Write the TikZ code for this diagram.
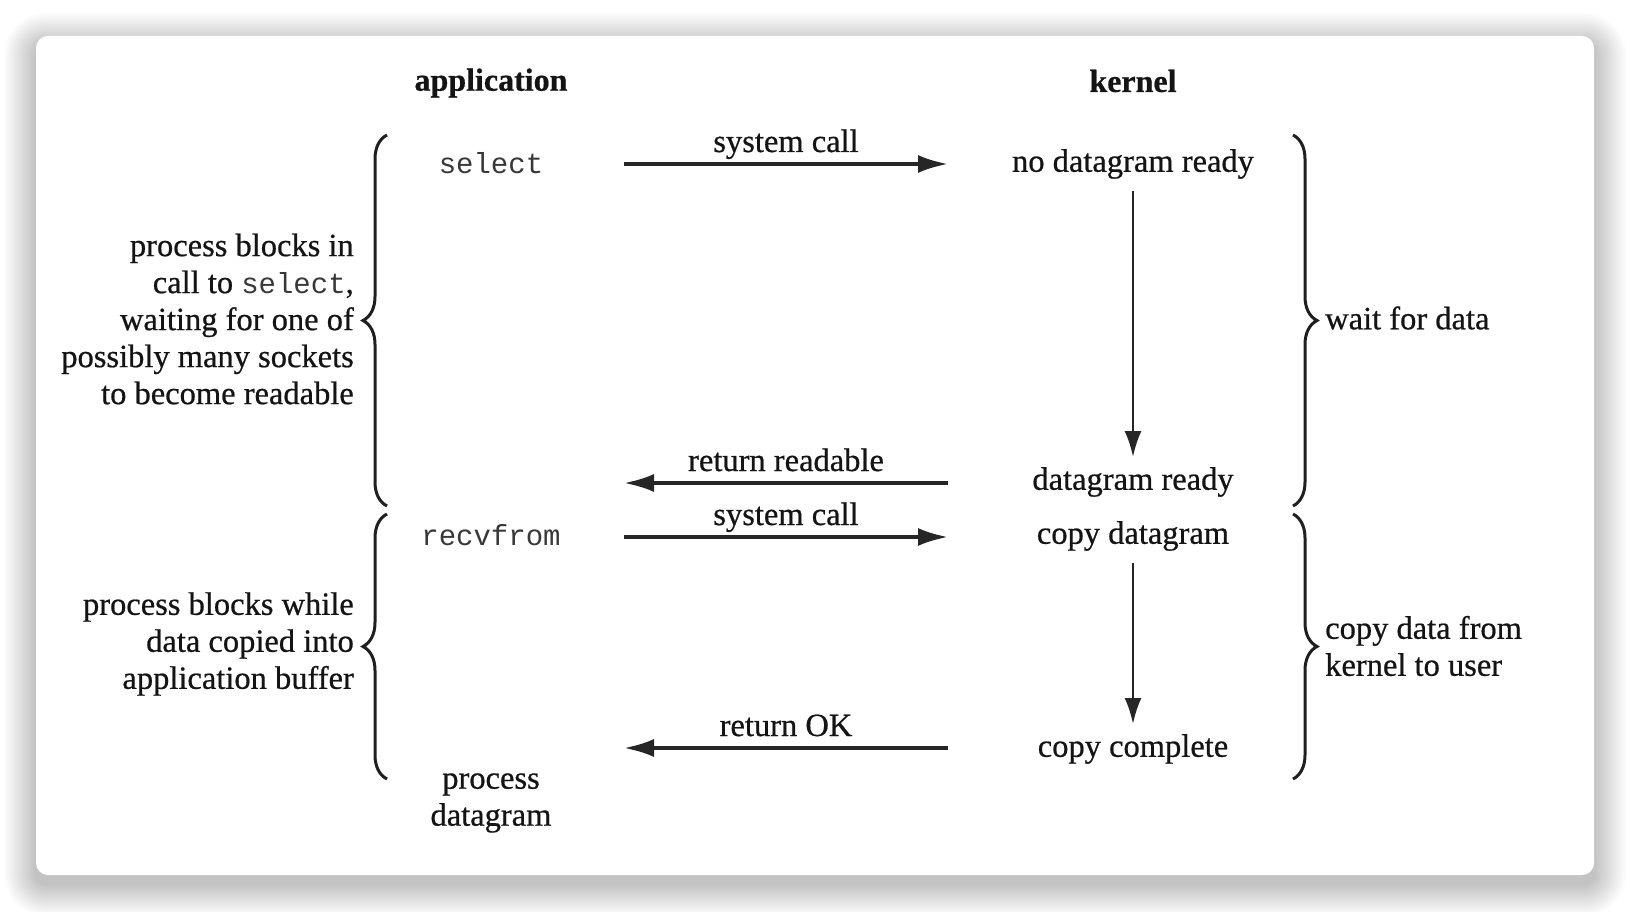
\documentclass[tikz,border=0pt]{standalone}
\usepackage{fontspec}
\setmainfont{Liberation Serif}[FakeBold=0.6]
\setmonofont{Liberation Mono}
\usetikzlibrary{arrows.meta,decorations.pathreplacing}
\begin{document}
\begin{tikzpicture}[x=1pt,y=-1pt,
  txt/.style={font=\fontsize{32.5}{37}\selectfont, text=black!92, inner sep=0pt},
  hdr/.style={font=\fontsize{32}{37}\selectfont\bfseries, text=black!92, inner sep=0pt},
  mono/.style={font=\fontsize{29}{37}\ttfamily, text=black!78, inner sep=0pt},
  lbl/.style={txt, anchor=base, yshift=12pt},
  harrow/.style={line width=3.5pt, draw=black!85, -{Latex[length=30pt,width=18pt]}},
  varrow/.style={line width=2.5pt, draw=black!85, -{Latex[length=26pt,width=17pt]}},
  bracel/.style={line width=3pt, draw=black!88, decorate, decoration={brace,amplitude=24pt}},
]
\useasboundingbox (0,0) rectangle (1630,912);
\fill[white] (0,0) rectangle (1630,912);
% soft shadow
\foreach \i in {1,...,20}{
  \pgfmathsetmacro{\d}{\i*1.6}
  \pgfmathsetmacro{\r}{10+\i*1.6}
  \fill[black,opacity=0.011,rounded corners=\r pt] ({36-\d},{36-\d+9}) rectangle ({1594+\d},{875+\d+9});
}
\fill[white,rounded corners=12pt] (36,36) rectangle (1594,875);

% headers
\node[hdr] (app) at (491,83) {application};
\node[hdr] (ker) at (1133,81) {kernel};

% application column
\node[mono] (sel) at (491,163) {select};
\node[mono] (recv) at (491,535) {recvfrom};
\node[txt, align=center] (pd) at (491,803) {process\\datagram};

% kernel column
\node[txt] (ndr) at (1133,164) {no datagram ready};
\node[txt] (dr) at (1133,482) {datagram ready};
\node[txt] (cd) at (1133,536) {copy datagram};
\node[txt] (cc) at (1133,749) {copy complete};

% side texts
\node[txt, align=right, anchor=east] (lt1) at (354,319) {process blocks in\\call to {\fontsize{29}{37}\ttfamily\color{black!78}select},\\waiting for one of\\possibly many sockets\\to become readable};
\node[txt, align=right, anchor=east] (lt2) at (354,644) {process blocks while\\data copied into\\application buffer};
\node[txt, align=left, anchor=west] (rt1) at (1325,318) {wait for data};
\node[txt, align=left, anchor=west] (rt2) at (1325,646) {copy data from\\kernel to user};

% arrow end points
\coordinate (a1s) at (624,164);
\coordinate (a1e) at (948,164);
\coordinate (a2s) at (948,483);
\coordinate (a2e) at (624,483);
\coordinate (a3s) at (624,537);
\coordinate (a3e) at (948,537);
\coordinate (a4s) at (948,748);
\coordinate (a4e) at (624,748);

\draw[harrow] (a1s) -- node[lbl] (l1) {system call} (a1e);
\draw[harrow] (a2s) -- node[lbl] (l2) {return readable} (a2e);
\draw[harrow] (a3s) -- node[lbl] (l3) {system call} (a3e);
\draw[harrow] (a4s) -- node[lbl] (l4) {return OK} (a4e);

\draw[varrow] ([yshift=-12pt]ndr.south) -- ([yshift=10pt]dr.north);
\draw[varrow] ([yshift=-12pt]cd.south) -- ([yshift=10pt]cc.north);

% braces
\coordinate (b1b) at (387,506);
\coordinate (b1t) at (387,135);
\coordinate (b2b) at (387,779);
\coordinate (b2t) at (387,514);
\coordinate (b3t) at (1293,135);
\coordinate (b3b) at (1293,506);
\coordinate (b4t) at (1293,514);
\coordinate (b4b) at (1293,779);
\draw[bracel] (b1b) -- (b1t);
\draw[bracel] (b2b) -- (b2t);
\draw[bracel] (b3t) -- (b3b);
\draw[bracel] (b4t) -- (b4b);
\end{tikzpicture}
\end{document}
